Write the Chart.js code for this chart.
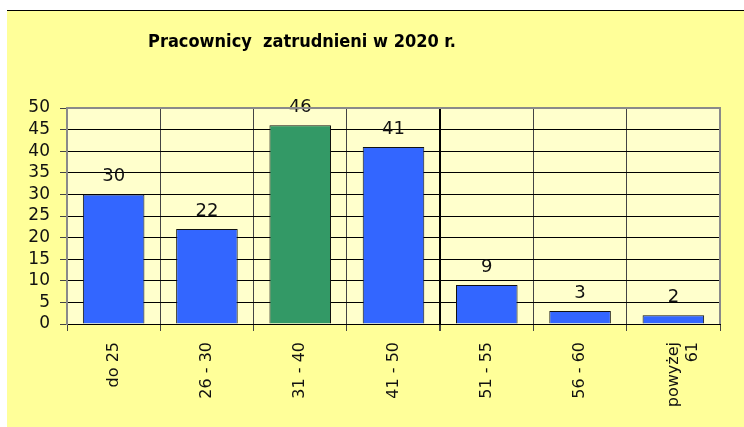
<!DOCTYPE html>
<html>
<head>
<meta charset="utf-8">
<script src="https://cdn.jsdelivr.net/npm/chart.js@4"></script>
<style>
  html, body { margin: 0; padding: 0; background: #fff; }
  canvas { display: block; }
</style>
</head>
<body>
<canvas id="myChart" width="744" height="427"></canvas>
<script>
// data
const categories = ['do 25', '26 - 30', '31 - 40', '41 - 50', '51 - 55', '56 - 60', ['powyżej', '61']];
const employees = [30, 22, 46, 41, 9, 3, 2];
const barColors = ['#3366FF', '#3366FF', '#339966', '#3366FF', '#3366FF', '#3366FF', '#3366FF'];
const yTicks = [0, 5, 10, 15, 20, 25, 30, 35, 40, 45, 50];
const titleText = 'Pracownicy  zatrudnieni w 2020 r.';

const FONT = '"DejaVu Sans", Verdana, sans-serif';

// yellow frame + light plot area + borders
const frame = {
  id: 'frame',
  beforeDraw(chart) {
    const c = chart.ctx, a = chart.chartArea;
    c.save();
    c.fillStyle = '#FFFF99';
    c.fillRect(7, 10, chart.width - 7, chart.height - 10);
    c.fillStyle = '#000';
    c.fillRect(7, 10, chart.width - 7, 1);
    c.fillStyle = '#FFFFCC';
    c.fillRect(a.left, a.top, a.right - a.left, a.bottom - a.top);
    c.restore();
  },
  afterDraw(chart) {
    const c = chart.ctx, a = chart.chartArea;
    c.save();
    c.strokeStyle = '#8a8a8a';
    c.lineWidth = 2;
    c.beginPath();
    c.moveTo(a.left, a.bottom);
    c.lineTo(a.left, a.top);
    c.lineTo(a.right, a.top);
    c.lineTo(a.right, a.bottom);
    c.stroke();
    // title
    c.fillStyle = '#000';
    c.font = 'bold 18px "DejaVu Sans Condensed", "Liberation Sans", sans-serif';
    c.textAlign = 'center';
    c.textBaseline = 'middle';
    c.fillText(titleText, 302, 42);
    c.restore();
  }
};

// value labels above the bars
const valueLabels = {
  id: 'valueLabels',
  afterDatasetsDraw(chart) {
    const c = chart.ctx;
    const meta = chart.getDatasetMeta(0);
    c.save();
    c.font = '18px ' + FONT;
    c.fillStyle = '#111';
    c.textAlign = 'center';
    c.textBaseline = 'middle';
    meta.data.forEach((bar, i) => {
      c.fillText(String(employees[i]), bar.x, bar.y - 18);
    });
    c.restore();
  }
};

const ctx = document.getElementById('myChart').getContext('2d');
new Chart(ctx, {
  type: 'bar',
  data: {
    labels: categories,
    datasets: [{
      data: employees,
      backgroundColor: barColors,
      borderColor: '#111',
      borderWidth: 1,
      barPercentage: 0.66,
      categoryPercentage: 1
    }]
  },
  options: {
    responsive: false,
    animation: false,
    layout: { padding: { left: 0, top: 108, right: 24, bottom: 0 } },
    plugins: {
      legend: { display: false },
      title: { display: false },
      tooltip: { enabled: false }
    },
    scales: {
      x: {
        afterFit: s => { s.height = 103; },
        grid: {
          offset: true,
          color: c => c.index === 4 ? '#000' : '#444',
          lineWidth: c => c.index === 4 ? 2 : 1,
          tickLength: 7,
          tickColor: '#444'
        },
        border: { color: '#000', width: 1 },
        ticks: {
          minRotation: 90,
          maxRotation: 90,
          padding: 11,
          color: '#111',
          font: { family: FONT, size: 16 }
        }
      },
      y: {
        min: 0,
        max: 50,
        afterFit: s => { s.width = 67; },
        afterBuildTicks: s => { s.ticks = yTicks.map(v => ({ value: v })); },
        grid: {
          color: c => c.tick && c.tick.value === 50 ? '#8a8a8a' : '#000',
          lineWidth: 1,
          tickLength: 7,
          tickColor: '#444'
        },
        border: { color: '#8a8a8a', width: 2 },
        ticks: {
          autoSkip: false,
          padding: 10,
          color: '#111',
          font: { family: FONT, size: 17 }
        }
      }
    }
  },
  plugins: [frame, valueLabels]
});
</script>
</body>
</html>
